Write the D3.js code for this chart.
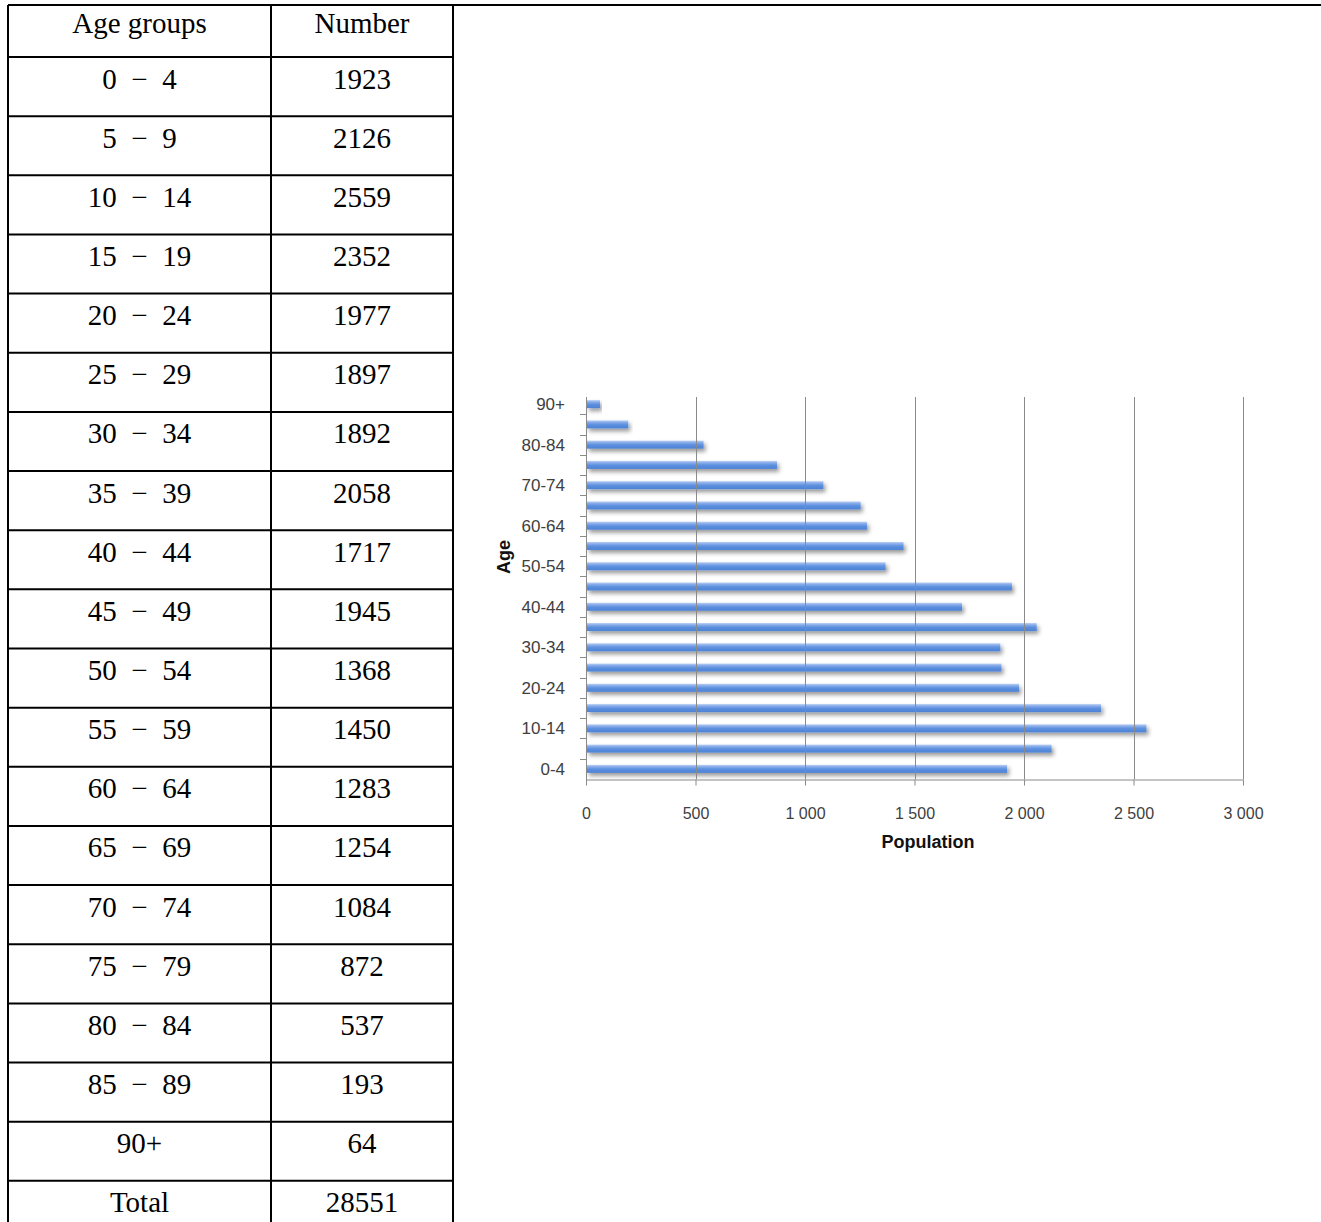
<!DOCTYPE html>
<html>
<head>
<meta charset="utf-8">
<script src="https://cdn.jsdelivr.net/npm/d3@7"></script>
<style>
  body { margin: 0; background: #fff; }
  svg { display: block; }
  .cell { font-family: "Liberation Serif", "Times New Roman", serif; font-size: 29px; fill: #000; white-space: pre; }
  .tick-label { font-family: "Liberation Sans", Arial, sans-serif; font-size: 16px; fill: #404040; }
  .ylab { font-size: 17px; }
  .axis-title { font-family: "Liberation Sans", Arial, sans-serif; font-size: 18px; font-weight: bold; fill: #111; }
</style>
</head>
<body>
<div id="page"></div>
<script>
// age groups as written in the table
const tableGroups = ["0  \u2212  4", "5  \u2212  9", "10  \u2212  14", "15  \u2212  19", "20  \u2212  24",
    "25  \u2212  29", "30  \u2212  34", "35  \u2212  39", "40  \u2212  44", "45  \u2212  49",
    "50  \u2212  54", "55  \u2212  59", "60  \u2212  64", "65  \u2212  69", "70  \u2212  74",
    "75  \u2212  79", "80  \u2212  84", "85  \u2212  89", "90+"];
// same groups as used on the chart axis
const ageGroups = ["0-4", "5-9", "10-14", "15-19", "20-24", "25-29", "30-34", "35-39", "40-44",
    "45-49", "50-54", "55-59", "60-64", "65-69", "70-74", "75-79", "80-84", "85-89", "90+"];
const population = [1923, 2126, 2559, 2352, 1977, 1897, 1892, 2058, 1717, 1945,
    1368, 1450, 1283, 1254, 1084, 872, 537, 193, 64];
const totalLabel = "Total";
const totalValue = 28551;
const xTicks = [0, 500, 1000, 1500, 2000, 2500, 3000];

function draw() {
    const width = 1321;
    const height = 1222;

    const svg = d3.select("#page")
        .append("svg")
        .attr("width", width)
        .attr("height", height);

    drawTable(svg, width, height);
    drawChart(svg);
}

function drawTable(svg, width, height) {
    const left = 8, mid = 271, right = 453;
    const top = 5, headBottom = 57, rowH = 59.15;

    const rows = tableGroups.map((g, i) => ({ label: g, value: population[i] }));
    rows.push({ label: totalLabel, value: totalValue });

    const g = svg.append("g");

    // borders
    g.append("line")
        .attr("x1", left).attr("x2", width)
        .attr("y1", top).attr("y2", top)
        .attr("stroke", "#000").attr("stroke-width", 2);

    [left, mid, right].forEach(x => {
        g.append("line")
            .attr("x1", x).attr("x2", x)
            .attr("y1", top).attr("y2", height)
            .attr("stroke", "#000").attr("stroke-width", 2);
    });

    const lineYs = d3.range(rows.length).map(i => headBottom + i * rowH);
    g.selectAll(".row-line")
        .data(lineYs)
        .enter()
        .append("line")
        .attr("class", "row-line")
        .attr("x1", left).attr("x2", right)
        .attr("y1", d => d).attr("y2", d => d)
        .attr("stroke", "#000").attr("stroke-width", 2);

    const c1 = (left + mid) / 2, c2 = (mid + right) / 2;

    g.append("text").attr("class", "cell")
        .attr("x", c1).attr("y", 33).attr("text-anchor", "middle")
        .text("Age groups");
    g.append("text").attr("class", "cell")
        .attr("x", c2).attr("y", 33).attr("text-anchor", "middle")
        .text("Number");

    const cells = g.selectAll(".data-row")
        .data(rows)
        .enter()
        .append("g")
        .attr("class", "data-row")
        .attr("transform", (d, i) => `translate(0,${headBottom + i * rowH + 31.5})`);

    cells.append("text").attr("class", "cell")
        .attr("x", c1).attr("text-anchor", "middle")
        .text(d => d.label);
    cells.append("text").attr("class", "cell")
        .attr("x", c2).attr("text-anchor", "middle")
        .text(d => d.value);
}

function drawChart(svg) {
    const x0 = 586, x1 = 1243;
    const yTop = 394, yBottom = 779;

    const x = d3.scaleLinear()
        .domain([0, 3000])
        .range([x0, x1]);

    const y = d3.scaleBand()
        .domain(ageGroups)
        .range([yBottom, yTop]);

    const fmt = d3.formatLocale({ decimal: ",", thousands: " ", grouping: [3], currency: ["", ""] }).format(",d");

    const defs = svg.append("defs");
    const grad = defs.append("linearGradient")
        .attr("id", "barGrad")
        .attr("x1", 0).attr("y1", 0).attr("x2", 0).attr("y2", 1);
    grad.append("stop").attr("offset", "0%").attr("stop-color", "#b9d0f4");
    grad.append("stop").attr("offset", "25%").attr("stop-color", "#86aae9");
    grad.append("stop").attr("offset", "55%").attr("stop-color", "#5b8fde");
    grad.append("stop").attr("offset", "100%").attr("stop-color", "#4d82d6");

    const shadow = defs.append("filter")
        .attr("id", "barShadow")
        .attr("x", "-5%").attr("y", "-50%")
        .attr("width", "115%").attr("height", "250%");
    shadow.append("feDropShadow")
        .attr("dx", 2).attr("dy", 3)
        .attr("stdDeviation", 2)
        .attr("flood-color", "#000")
        .attr("flood-opacity", 0.4);

    const chart = svg.append("g");

    // bars
    const barH = 8;
    chart.selectAll(".bar")
        .data(ageGroups)
        .enter()
        .append("rect")
        .attr("class", "bar")
        .attr("x", x(0) + 1)
        .attr("y", d => y(d) + y.bandwidth() / 2 - barH / 2)
        .attr("width", (d, i) => x(population[i]) - x(0) - 1)
        .attr("height", barH)
        .attr("fill", "url(#barGrad)")
        .attr("filter", "url(#barShadow)");

    // vertical gridlines
    chart.selectAll(".grid")
        .data(xTicks.slice(1))
        .enter()
        .append("line")
        .attr("class", "grid")
        .attr("x1", d => Math.round(x(d)) + 0.5)
        .attr("x2", d => Math.round(x(d)) + 0.5)
        .attr("y1", yTop + 3)
        .attr("y2", yBottom)
        .attr("stroke", "#8a8a8a")
        .attr("stroke-width", 1);

    // x axis
    const xAxis = chart.append("g")
        .attr("transform", `translate(0,${yBottom + 0.5})`)
        .call(d3.axisBottom(x).tickValues(xTicks).tickSize(6).tickSizeOuter(0).tickPadding(22).tickFormat(fmt));
    xAxis.select(".domain").attr("stroke", "#8a8a8a");
    xAxis.selectAll(".tick line").attr("stroke", "#8a8a8a");
    xAxis.selectAll(".tick text")
        .attr("class", "tick-label")
        .attr("font-family", null)
        .attr("font-size", null)
        .attr("fill", null);

    // y axis: line and tick marks at band edges
    chart.append("line")
        .attr("x1", x0 + 0.5).attr("x2", x0 + 0.5)
        .attr("y1", yTop + 3).attr("y2", yBottom + 6)
        .attr("stroke", "#8a8a8a");

    const edges = ageGroups.slice(1).map(d => y(d) + y.bandwidth());
    chart.selectAll(".ytick")
        .data(edges)
        .enter()
        .append("line")
        .attr("class", "ytick")
        .attr("x1", x0 - 6).attr("x2", x0)
        .attr("y1", d => Math.round(d) + 0.5)
        .attr("y2", d => Math.round(d) + 0.5)
        .attr("stroke", "#8a8a8a");

    chart.selectAll(".ylabel")
        .data(ageGroups.filter((d, i) => i % 2 === 0))
        .enter()
        .append("text")
        .attr("class", "tick-label ylab")
        .attr("x", 565)
        .attr("y", d => y(d) + y.bandwidth() / 2)
        .attr("dy", "0.35em")
        .attr("text-anchor", "end")
        .text(d => d);

    // axis titles
    chart.append("text")
        .attr("class", "axis-title")
        .attr("x", 928)
        .attr("y", 848)
        .attr("text-anchor", "middle")
        .text("Population");

    chart.append("text")
        .attr("class", "axis-title")
        .attr("transform", "rotate(-90)")
        .attr("x", -557)
        .attr("y", 510)
        .attr("text-anchor", "middle")
        .text("Age");
}

document.addEventListener("DOMContentLoaded", function(event) {
    draw();
});
</script>
</body>
</html>
